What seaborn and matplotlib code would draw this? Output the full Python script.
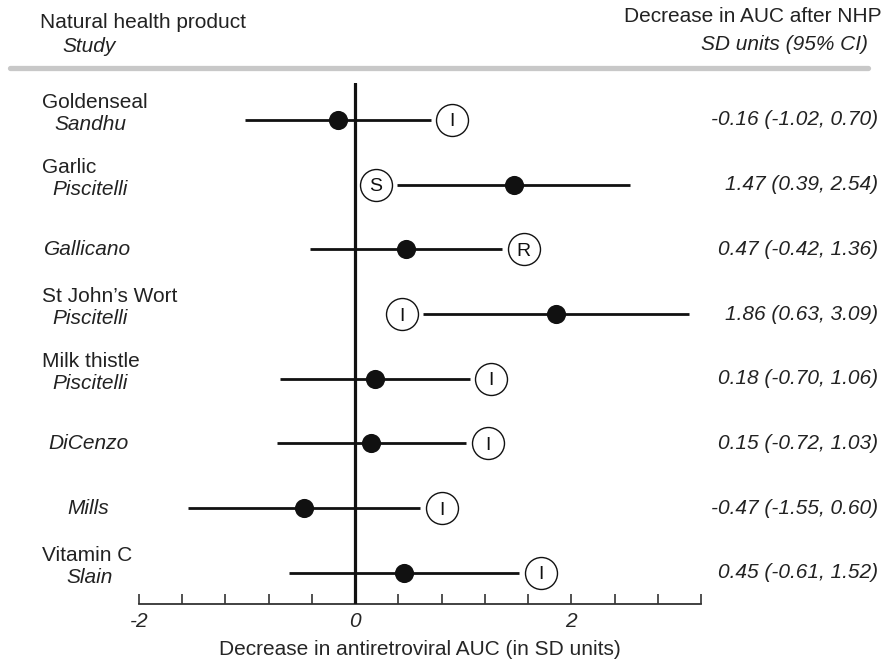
import numpy as np
import pandas as pd
import matplotlib
matplotlib.use('Agg')
import matplotlib.pyplot as plt
import matplotlib.transforms as mtransforms
from matplotlib.lines import Line2D
import seaborn as sns

products = ['Goldenseal', 'Garlic', '', "St John\u2019s Wort", 'Milk thistle', '', '', 'Vitamin C']
studies = ['Sandhu', 'Piscitelli', 'Gallicano', 'Piscitelli', 'Piscitelli', 'DiCenzo', 'Mills', 'Slain']
estimate = [-0.16, 1.47, 0.47, 1.86, 0.18, 0.15, -0.47, 0.45]
ci_low = [-1.02, 0.39, -0.42, 0.63, -0.70, -0.72, -1.55, -0.61]
ci_high = [0.70, 2.54, 1.36, 3.09, 1.06, 1.03, 0.60, 1.52]
tag = ['I', 'S', 'R', 'I', 'I', 'I', 'I', 'I']
tag_side = ['right', 'left', 'right', 'left', 'right', 'right', 'right', 'right']

data = pd.DataFrame({'product': products, 'study': studies, 'est': estimate,
                     'lo': ci_low, 'hi': ci_high, 'tag': tag, 'side': tag_side})
data['row'] = np.arange(len(data))
data['tag_x'] = np.where(data['side'] == 'right', data['hi'] + 0.2, data['lo'] - 0.2)

sns.set_style('white')
plt.rcParams['font.family'] = ['Liberation Sans', 'DejaVu Sans']
FS = 15

W, H = 888, 671
fig = plt.figure(figsize=(W / 100, H / 100), dpi=100)
ax = fig.add_axes([139 / W, 1 - 604 / H, (701 - 139) / W, (604 - 83) / H])

ax.hlines(data['row'], data['lo'], data['hi'], color='#111111', lw=2, zorder=2)
ax.axvline(0, color='#111111', lw=2.3, zorder=3)
sns.scatterplot(data=data, x='est', y='row', ax=ax, s=190, color='#111111',
                edgecolor='#111111', linewidth=0, zorder=4, legend=False)
ax.scatter(data['tag_x'], data['row'], s=530, facecolor='white',
           edgecolor='#111111', linewidth=1, zorder=5)
for _, r in data.iterrows():
    ax.text(r['tag_x'], r['row'], r['tag'], ha='center', va='center_baseline',
            fontsize=14, color='#111111', zorder=6)

ticks = np.arange(-2, 3.21, 0.4)
ax.set_xlim(-2, 3.2)
ax.set_ylim(len(data) - 0.52, -0.57)
ax.set_xticks(ticks)
ax.set_xticklabels(['%d' % round(v) if abs(v - round(v)) < 1e-6 and round(v) % 2 == 0 else ''
                    for v in ticks], fontsize=FS, style='italic')
ax.set_yticks([])
ax.set_ylabel('')
ax.tick_params(axis='x', bottom=True, direction='in', length=7, width=1.2,
               color='#333333', pad=6)
for s in ['top', 'left', 'right']:
    ax.spines[s].set_visible(False)
ax.spines['bottom'].set_color('#333333')
ax.spines['bottom'].set_linewidth(1.3)
ax.set_xlabel('Decrease in antiretroviral AUC (in SD units)', fontsize=FS, labelpad=6)
ax.set_facecolor('none')

trans = mtransforms.blended_transform_factory(fig.transFigure, ax.transData)
for _, r in data.iterrows():
    if r['product']:
        ax.text(42 / W, r['row'] - 0.27, r['product'], transform=trans, ha='left',
                va='center', fontsize=FS, color='#222222')
        ax.text(90 / W, r['row'] + 0.07, r['study'], transform=trans, ha='center',
                va='center', fontsize=FS, style='italic', color='#222222')
    else:
        ax.text(88 / W, r['row'], r['study'], transform=trans, ha='center',
                va='center', fontsize=FS, style='italic', color='#222222')
    ax.text(878 / W, r['row'], '%.2f (%.2f, %.2f)' % (r['est'], r['lo'], r['hi']),
            transform=trans, ha='right', va='center', fontsize=FS, style='italic',
            color='#222222')

fig.text(40 / W, 1 - 22 / H, 'Natural health product', ha='left', va='center',
         fontsize=FS, color='#222222')
fig.text(62 / W, 1 - 47 / H, 'Study', ha='left', va='center', fontsize=FS,
         style='italic', color='#222222')
fig.text(882 / W, 1 - 16 / H, 'Decrease in AUC after NHP', ha='right', va='center',
         fontsize=FS, color='#222222')
fig.text(868 / W, 1 - 45 / H, 'SD units (95% CI)', ha='right', va='center',
         fontsize=FS, style='italic', color='#222222')
fig.add_artist(Line2D([10 / W, 868 / W], [1 - 68 / H, 1 - 68 / H], color='#c8c8c8',
                      lw=3.8, transform=fig.transFigure))

fig.savefig('out.png', dpi=100, facecolor='white')
